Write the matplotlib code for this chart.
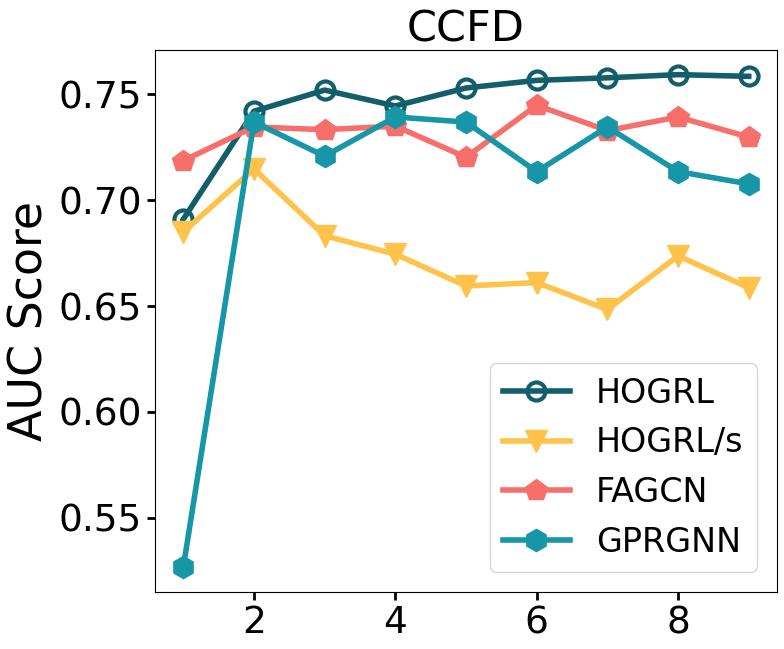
import matplotlib.pyplot as plt

# AUC scores
x_vals = [1, 2, 3, 4, 5, 6, 7, 8, 9]
hogrl = [0.691, 0.742, 0.752, 0.7445, 0.753, 0.7566, 0.7578, 0.7593, 0.7585]
hogrl_s = [0.685, 0.7148, 0.6832, 0.6745, 0.6595, 0.6611, 0.6484, 0.6737, 0.6587]
fagcn = [0.7187, 0.7346, 0.7333, 0.735, 0.7203, 0.7448, 0.7329, 0.7393, 0.7298]
gprgnn = [0.5266, 0.7369, 0.7208, 0.7393, 0.7369, 0.7135, 0.7346, 0.7135, 0.7077]

fig = plt.figure(figsize=(7.84, 6.49), dpi=100)
ax = fig.add_axes([155 / 784, 57 / 649, 622 / 784, 542 / 649])

ax.plot(x_vals, hogrl, color="#125f6b", linewidth=4, marker="o",
        markersize=13, markerfacecolor="none", markeredgewidth=3, label="HOGRL")
ax.plot(x_vals, hogrl_s, color="#ffc24b", linewidth=4, marker="v",
        markersize=16, label="HOGRL/s")
ax.plot(x_vals, fagcn, color="#f76f6a", linewidth=4, marker="p",
        markersize=16, label="FAGCN")
ax.plot(x_vals, gprgnn, color="#1696a6", linewidth=4, marker="h",
        markersize=16, label="GPRGNN")

ax.set_title("CCFD", fontsize=31)
ax.set_ylabel("AUC Score", fontsize=33)
ax.set_xticks([2, 4, 6, 8])
ax.set_yticks([0.55, 0.60, 0.65, 0.70, 0.75])
ax.tick_params(axis="both", labelsize=27, width=2, length=6)
ax.legend(loc="lower right", fontsize=24, borderaxespad=0.6)

plt.savefig("out.png", dpi=100)
